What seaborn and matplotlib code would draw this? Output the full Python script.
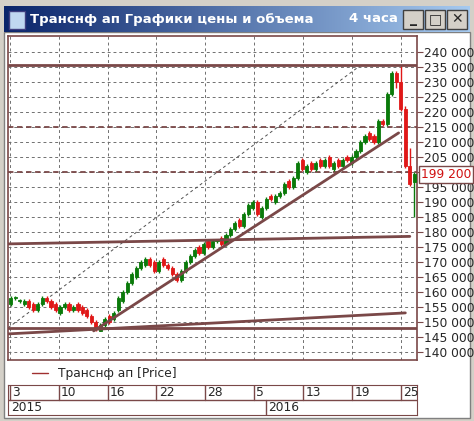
import numpy as np
import matplotlib
matplotlib.use("Agg")
import matplotlib.pyplot as plt
import seaborn as sns
from matplotlib.patches import Rectangle

sns.set_style("white")
plt.rcParams['font.family'] = ['DejaVu Sans']

closes = [158,158,157,157,155, 154,156,158,157,155, 154,155,156,154,155,
          154,153,152,150,148, 149,151,150,153,158, 160,163,166,168,170,
          171,169,167,170,169, 168,166,164,167,170, 172,174,173,176,175,
          177,177,176,179,181, 183,182,186,189,190, 186,188,191,191,192,
          193,196,195,198,203, 201,202,201,203,202, 204,202,203,202,204,
          204,205,207,210,212, 211,210,217,216,226, 233,230,221,202,196, 199.2]
opens = [156,158,157,156,157, 156,154,156,158,157, 156,153,155,156,154,
         156,155,154,152,150, 147,149,152,151,154, 157,160,163,165,168,
         169,171,170,167,171, 169,168,166,164,167, 170,172,175,173,177,
         175,177,178,176,179, 181,184,182,186,188, 190,185,188,192,190,
         192,193,197,195,198, 204,200,203,201,204, 202,205,201,204,202,
         205,203,205,207,210, 213,212,210,217,216, 226,233,230,221,202, 196.5]
extra_high = {87: 235.5, 88: 222, 85: 233.5, 89: 208}
extra_low = {90: 185, 19: 147, 20: 147, 86: 228}
tick_labels = ["3", "10", "16", "22", "28", "5", "13", "19", "25"]
year_labels = ["2015", "2016"]
yticks = list(range(140, 241, 5))
last_price = 199.2

W, H = 474, 421
fig = plt.figure(figsize=(W/100, H/100), dpi=100)
fig.patch.set_facecolor("#d4d0c8")

def fx(px): return px / W
def fy(py): return 1 - py / H

fig.patches.append(Rectangle((fx(4), fy(418)), fx(466), (418-32)/H, transform=fig.transFigure,
                             facecolor="white", edgecolor="#808080", lw=1, zorder=-10))
tb = fig.add_axes([fx(4), fy(32), fx(466), 26/H])
tb.imshow(np.linspace(0, 1, 256)[None, :], aspect="auto", extent=[0, 1, 0, 1],
          cmap=matplotlib.colors.LinearSegmentedColormap.from_list("t", ["#0a246a", "#a6caf0"]))
tb.set_axis_off()
fig.text(fx(30), fy(19), "Транснф ап Графики цены и объема", color="white", fontsize=9.5,
         fontweight="bold", va="center", zorder=20)
fig.text(fx(398), fy(19), "4 часа", color="white", fontsize=9.5, fontweight="bold",
         va="center", ha="right", zorder=20)
for bx, s in [(403, "_"), (425, "□"), (447, "✕")]:
    fig.patches.append(Rectangle((fx(bx), fy(29)), fx(20), 19/H, transform=fig.transFigure,
                                 facecolor="#d4d0c8", edgecolor="#404040", lw=1, zorder=15))
    fig.text(fx(bx+10), fy(19.5), s, fontsize=10, fontweight="bold", ha="center", va="center", zorder=20)
fig.patches.append(Rectangle((fx(9), fy(29)), fx(16), 18/H, transform=fig.transFigure,
                             facecolor="#c0d8f0", edgecolor="#404080", lw=1, zorder=15))

ax = fig.add_axes([fx(8), fy(360), fx(409), 324/H])
n = len(closes)
idx = np.arange(n)
highs = [max(o, c) + 0.8 for o, c in zip(opens, closes)]
lows = [min(o, c) - 0.8 for o, c in zip(opens, closes)]
for k, v in extra_high.items(): highs[k] = v
for k, v in extra_low.items(): lows[k] = v
cols = ["#0a7a0a" if c >= o else "#e01818" for o, c in zip(opens, closes)]
ax.vlines(idx, lows, highs, colors=cols, lw=1, zorder=3)
bottoms = [min(o, c) for o, c in zip(opens, closes)]
heights = [max(abs(c - o), 0.4) for o, c in zip(opens, closes)]
ax.bar(idx, heights, bottom=bottoms, width=0.7, color=cols, edgecolor=cols, lw=0.6, zorder=4)

ax.set_xlim(-0.6, 90.6)
ax.set_ylim(137.3, 245.3)
tpos = [i * 10.9 for i in range(len(tick_labels))]
for t in tpos:
    ax.axvline(t - 0.2, color="#707070", ls=(0, (3, 3)), lw=0.7, zorder=1)
for y in yticks:
    ax.axhline(y, color="#707070", ls=(0, (3, 3)), lw=0.7, zorder=1)
brown = "#7a4848"
ax.axhline(235.5, color=brown, lw=2, zorder=5)
ax.axhline(148, color=brown, lw=2, zorder=5)
ax.axhline(215, color=brown, lw=1.3, ls=(0, (3, 2)), zorder=2)
ax.axhline(200, color=brown, lw=1.3, ls=(0, (3, 2)), zorder=2)
ax.plot([-0.6, 89], [176, 178.5], color=brown, lw=2, zorder=5)
ax.plot([-0.6, 88], [146, 153], color=brown, lw=2, zorder=5)
ax.plot([18.5, 86.5], [147, 213], color=brown, lw=2, zorder=5)
ax.plot([-0.6, 78], [148, 235.5], color="#505050", lw=0.7, ls=(0, (3, 3)), zorder=2)

ax.yaxis.tick_right()
ax.set_yticks(yticks)
ax.set_yticklabels(["" if y == 200 else f"{y} 000" for y in yticks], fontsize=8.8)
ax.tick_params(axis="y", length=4, color=brown, pad=1, right=True)
ax.set_xticks([])
for s in ax.spines.values():
    s.set_color(brown); s.set_linewidth(1.2)
ax.text(1.01, last_price, f"{last_price*1000:,.0f}".replace(",", " "), transform=ax.get_yaxis_transform(),
        color="#d01010", fontsize=8.8, va="center", ha="left",
        bbox=dict(boxstyle="square,pad=0.15", fc="white", ec=brown, lw=1))

fig.lines.append(matplotlib.lines.Line2D([fx(32), fx(48)], [fy(373), fy(373)], color="#a03030",
                                         lw=1, transform=fig.transFigure))
fig.text(fx(58), fy(373), "Транснф ап [Price]", fontsize=8.8, va="center")

dax = fig.add_axes([fx(8), fy(415), fx(409), 30/H])
dax.set_xlim(-0.6, 90.6); dax.set_ylim(0, 2)
dax.axhline(1, color=brown, lw=1)
for t, lab in zip(tpos, tick_labels):
    dax.plot([t - 0.2, t - 0.2], [1, 2], color=brown, lw=1)
    dax.text(t + 0.3, 1.5, lab, fontsize=8.8, va="center")
split = 4.9 * 10.9 + 3.5
dax.plot([split, split], [0, 1], color=brown, lw=1)
dax.text(0.0, 0.5, year_labels[0], fontsize=8.8, va="center")
dax.text(split + 0.6, 0.5, year_labels[1], fontsize=8.8, va="center")
dax.set_xticks([]); dax.set_yticks([])
for s in dax.spines.values():
    s.set_color(brown)

fig.savefig("out.png", dpi=100, facecolor=fig.get_facecolor())
